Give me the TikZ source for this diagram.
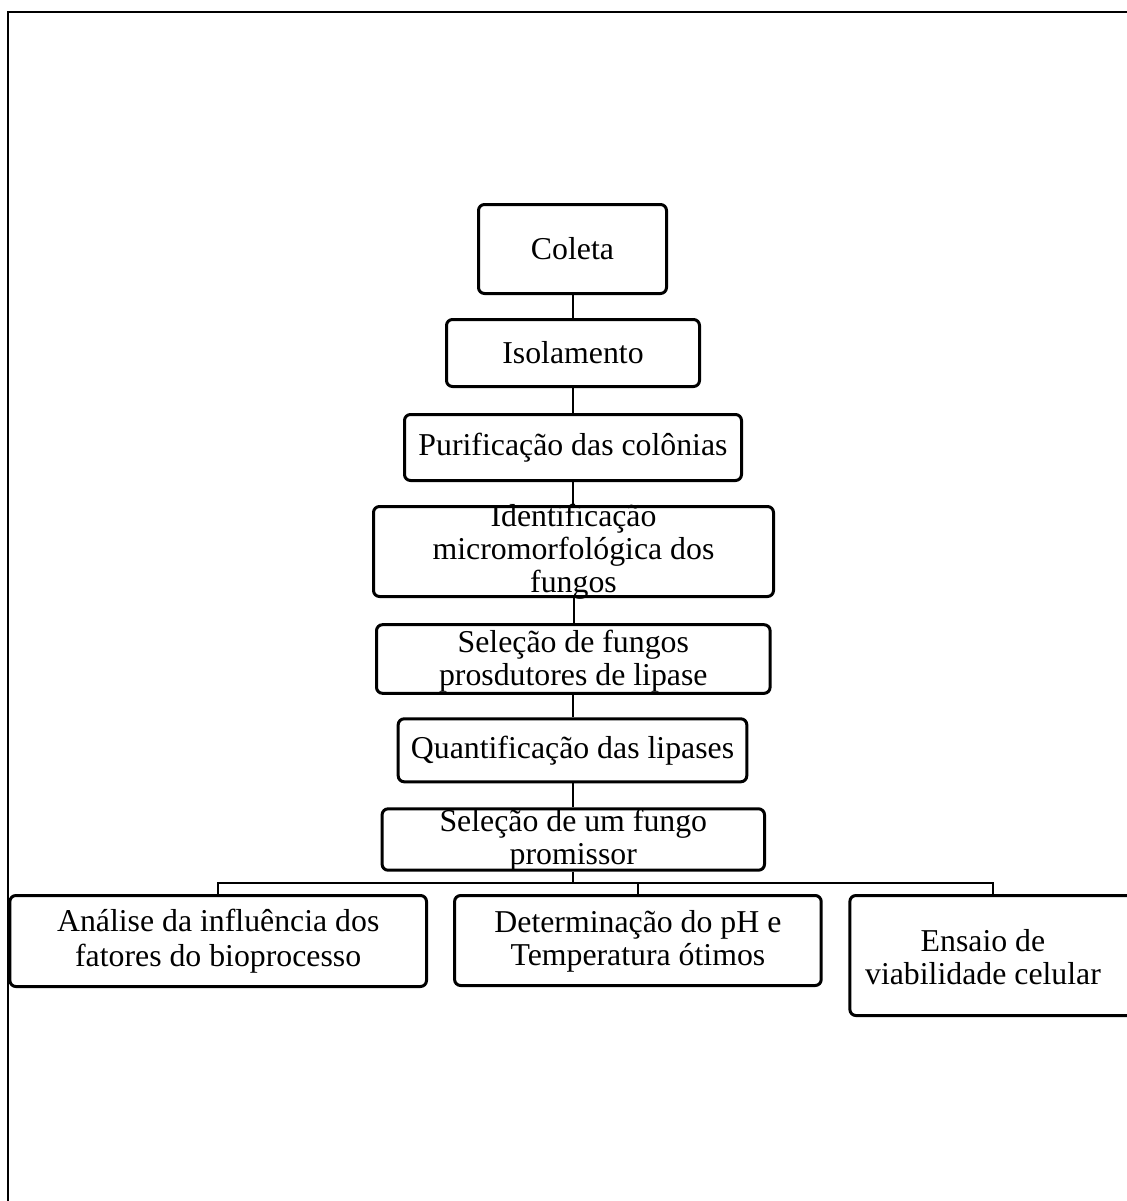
\documentclass[tikz,border=0pt]{standalone}
\usepackage{fontspec}
\setmainfont{Liberation Serif}
\begin{document}
\begin{tikzpicture}[x=0.5pt,y=-0.5pt,
  stepbox/.style={draw=black,line width=1.5pt,rounded corners=3pt,inner sep=0pt,fill=white},
  txt/.style={align=center,inner sep=0pt,font=\fontsize{15.9}{16.6}\selectfont},
  conn/.style={draw=black,line width=1pt},
  frame/.style={draw=black,line width=1pt}]
\useasboundingbox (0,0) rectangle (1127,1201);
\clip (0,0) rectangle (1127,1201);
\fill[white] (0,0) rectangle (1127,1201);
\draw[frame] (7.5,1220) -- (7.5,12) -- (1150,12);
% boxes
\node[stepbox,minimum width=94pt,minimum height=44.5pt] (b1) at (572.5,249) {};
\node[stepbox,minimum width=126.5pt,minimum height=33.5pt] (b2) at (573,353) {};
\node[stepbox,minimum width=168.5pt,minimum height=33pt] (b3) at (573,447.5) {};
\node[stepbox,minimum width=200pt,minimum height=45pt] (b4) at (573.5,551.5) {};
\node[stepbox,minimum width=196.8pt,minimum height=34.3pt] (b5) at (573.3,659) {};
\node[stepbox,minimum width=174.3pt,minimum height=31.5pt] (b6) at (572.5,750.3) {};
\node[stepbox,minimum width=191.2pt,minimum height=30.7pt] (b7) at (573.3,839.5) {};
\node[stepbox,minimum width=208.3pt,minimum height=45.5pt] (b8) at (218.2,941) {};
\node[stepbox,minimum width=183.3pt,minimum height=45pt] (b9) at (637.9,940.5) {};
\node[stepbox,minimum width=142.8pt,minimum height=60pt] (b10) at (992.7,955.5) {};
% connectors
\coordinate (bus) at (573.3,882.7);
\draw[conn] (b1.south) -- (b1.south |- b2.north);
\draw[conn] (b2.south) -- (b2.south |- b3.north);
\draw[conn] (b3.south) -- (b3.south |- b4.north);
\draw[conn] (b4.south) -- (b4.south |- b5.north);
\draw[conn] (b5.south) -- (b5.south |- b6.north);
\draw[conn] (b6.south) -- (b6.south |- b7.north);
\draw[conn] (b7.south) -- (b7.south |- bus);
\draw[conn] (b8.north) -- (b8.north |- bus) -- (b10.north |- bus) -- (b10.north);
\draw[conn] (b9.north |- bus) -- (b9.north);
% texts
\node[txt] (t1) at (b1) {Coleta};
\node[txt] (t2) at (b2) {Isolamento};
\node[txt] (t3) at (b3) {Purificação das colônias};
\node[txt] (t4) at (573.5,552) {Identificação\\micromorfológica dos\\fungos};
\node[txt] (t5) at (573.3,661) {Seleção de fungos\\prosdutores de lipase};
\node[txt] (t6) at (b6) {Quantificação das lipases};
\node[txt] (t7) at (573.3,840.5) {Seleção de um fungo\\promissor};
\node[txt,font=\fontsize{15.9}{17.5}\selectfont] (t8) at (218.2,941) {Análise da influência dos\\fatores do bioprocesso};
\node[txt] (t9) at (637.9,941) {Determinação do pH e\\Temperatura ótimos};
\node[txt] (t10) at (983,957) {Ensaio de\\viabilidade celular};
\end{tikzpicture}
\end{document}
